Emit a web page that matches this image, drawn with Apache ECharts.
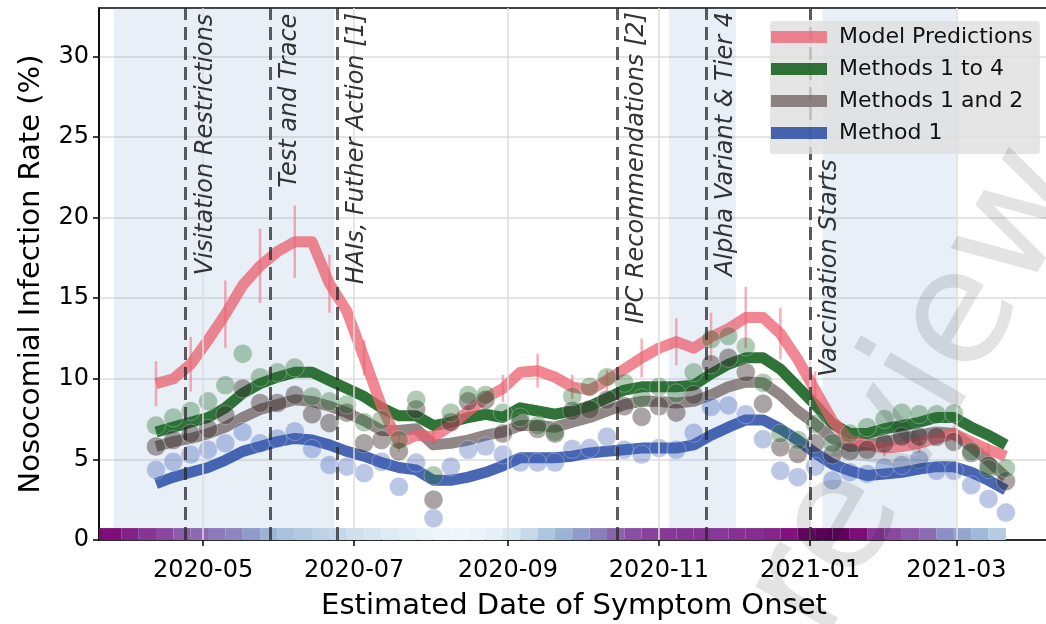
<!DOCTYPE html>
<html><head><meta charset="utf-8">
<script src="https://cdn.jsdelivr.net/npm/echarts@6/dist/echarts.min.js"></script>
<style>html,body{margin:0;padding:0;background:#fff}#c{width:1046px;height:624px}</style>
</head><body><div id="c"></div>
<script>
// ---------------- DATA ----------------
const weekDates = ['2020-04-12','2020-04-19','2020-04-26','2020-05-03','2020-05-10','2020-05-17','2020-05-24','2020-05-31',
 '2020-06-07','2020-06-14','2020-06-21','2020-06-28','2020-07-05','2020-07-12','2020-07-19','2020-07-26',
 '2020-08-02','2020-08-09','2020-08-16','2020-08-23','2020-08-30','2020-09-06','2020-09-13','2020-09-20','2020-09-27',
 '2020-10-04','2020-10-11','2020-10-18','2020-10-25','2020-11-01','2020-11-08','2020-11-15','2020-11-22','2020-11-29',
 '2020-12-06','2020-12-13','2020-12-20','2020-12-27','2021-01-03','2021-01-10','2021-01-17','2021-01-24','2021-01-31',
 '2021-02-07','2021-02-14','2021-02-21','2021-02-28','2021-03-07','2021-03-14','2021-03-21'];

const modelPred = [9.7,10.0,10.9,12.4,14.0,15.8,17.0,17.9,18.5,18.5,
 15.9,14.2,11.3,8.3,6.0,6.5,6.4,7.1,8.0,8.8,
 9.4,10.4,10.5,10.1,9.5,9.3,9.9,10.6,11.3,11.9,
 12.3,11.9,12.6,13.1,13.8,13.8,12.8,11.2,9.3,7.4,
 6.2,5.9,5.7,5.8,6.0,6.3,6.6,6.1,5.6,5.2];
const modelErr = [1.4,null,1.7,null,2.1,null,2.3,null,2.25,null,
 1.8,null,1.1,null,0.5,null,0.45,null,0.3,null,
 0.85,null,1.05,null,0.75,null,0.65,null,1.2,null,
 1.45,null,1.5,null,1.9,null,1.6,null,1.15,null,
 0.4,null,0.5,null,0.6,null,0.5,null,0.4,null];

const m14Line = [6.7,7.0,7.3,7.6,8.2,9.1,9.7,10.1,10.4,10.4,
 9.9,9.4,8.9,8.2,7.7,7.7,7.1,7.3,7.6,7.8,
 7.6,8.2,8.0,7.8,8.0,8.3,8.8,9.3,9.5,9.5,
 9.5,9.6,10.3,10.9,11.3,11.3,10.6,9.5,8.4,7.2,
 6.6,6.6,6.9,7.1,7.3,7.6,7.6,7.0,6.5,5.9];
const m12Line = [5.8,6.1,6.3,6.6,7.0,7.6,8.1,8.4,8.7,8.6,
 8.3,7.9,7.4,6.8,6.8,6.9,5.9,6.0,6.2,6.5,
 6.7,7.1,7.1,7.0,7.3,7.6,8.0,8.4,8.6,8.6,
 8.5,8.6,9.0,9.5,9.8,9.75,9.0,8.0,7.2,6.3,
 5.8,5.9,6.1,6.3,6.5,6.7,6.6,5.8,4.9,3.9];
const m1Line = [3.5,3.9,4.2,4.5,4.95,5.5,5.8,6.1,6.3,6.2,
 5.9,5.5,5.2,4.8,4.5,4.35,3.7,3.7,3.9,4.2,
 4.6,5.1,5.1,5.1,5.2,5.4,5.5,5.6,5.7,5.7,
 5.7,5.9,6.5,7.0,7.45,7.45,6.9,6.2,5.4,4.7,
 4.3,4.0,4.1,4.2,4.4,4.55,4.55,4.2,3.7,3.1];

const m14Pts = [7.1,7.6,8.0,8.6,9.6,11.55,10.1,10.4,10.7,8.9,
 8.6,8.4,7.3,7.45,6.2,8.7,4.0,7.9,9.0,9.0,
 7.9,7.6,7.1,6.7,8.9,9.5,10.1,9.75,8.8,9.5,
 9.1,10.4,12.45,12.65,12.0,9.75,6.6,6.2,7.2,6.0,
 6.6,7.0,7.5,7.9,7.8,7.8,7.85,5.5,4.4,4.45];
const m12Pts = [5.8,6.2,6.6,6.9,7.75,9.4,8.5,8.5,9.0,7.8,
 7.25,7.9,6.0,6.2,5.5,8.1,2.5,7.3,8.6,8.7,
 6.6,7.3,6.9,6.6,8.0,8.1,8.7,8.3,7.65,8.3,
 7.9,9.0,10.9,11.3,10.4,8.45,5.75,5.35,6.0,5.3,
 5.5,5.6,6.0,6.4,6.4,6.4,6.1,5.4,4.6,3.65];
const m1Pts = [4.35,4.85,5.3,5.6,6.0,6.7,6.0,6.3,6.75,5.65,
 4.65,4.55,4.15,4.85,3.3,4.8,1.35,4.55,5.6,5.8,
 5.3,4.8,4.8,4.8,5.65,5.7,6.4,5.6,5.3,5.7,
 5.6,6.65,8.25,8.35,7.8,6.25,4.3,3.9,4.55,3.7,
 4.2,4.1,4.5,4.65,5.0,4.3,4.3,3.4,2.55,1.7];

const stripStarts = ['2020-03-15','2020-03-22','2020-03-29','2020-04-05','2020-04-12','2020-04-19','2020-04-26','2020-05-03',
 '2020-05-10','2020-05-17','2020-05-24','2020-05-31','2020-06-07','2020-06-14','2020-06-21','2020-06-28','2020-07-05',
 '2020-07-12','2020-07-19','2020-07-26','2020-08-02','2020-08-09','2020-08-16','2020-08-23','2020-08-30','2020-09-06',
 '2020-09-13','2020-09-20','2020-09-27','2020-10-04','2020-10-11','2020-10-18','2020-10-25','2020-11-01','2020-11-08',
 '2020-11-15','2020-11-22','2020-11-29','2020-12-06','2020-12-13','2020-12-20','2020-12-27','2021-01-03','2021-01-10',
 '2021-01-17','2021-01-24','2021-01-31','2021-02-07','2021-02-14','2021-02-21','2021-02-28','2021-03-07','2021-03-14'];
const stripVals = [0.9,0.88,0.83,0.78,0.73,0.67,0.63,0.58,0.55,0.48,0.40,
 0.34,0.30,0.26,0.23,0.19,0.16,0.13,0.10,0.08,0.05,
 0.04,0.06,0.10,0.15,0.22,0.32,0.40,0.48,0.57,0.65,
 0.71,0.75,0.77,0.78,0.78,0.77,0.79,0.80,0.82,0.87,
 0.93,0.97,0.96,0.89,0.78,0.73,0.68,0.62,0.52,0.45,
 0.38,0.29];

const xTickDates = ['2020-05-01','2020-07-01','2020-09-01','2020-11-01','2021-01-01','2021-03-01'];
const yTicks = [0,5,10,15,20,25,30];
const eventDates = ['2020-04-24','2020-05-28','2020-06-24','2020-10-15','2020-11-20','2021-01-01'];
const eventLabels = ['Visitation Restrictions','Test and Trace','HAIs, Futher Action [1]','IPC Recommendations [2]','Alpha Variant & Tier 4','Vaccination Starts'];
const eventLabelTop = [32.65,32.65,32.7,32.75,32.75,23.6];
const shadeStarts = ['2020-03-26','2020-11-05','2021-01-06'];
const shadeEnds = ['2020-06-23','2020-12-02','2021-03-01'];
const names = ['Model Predictions','Methods 1 to 4','Methods 1 and 2','Method 1'];
const xLabel = 'Estimated Date of Symptom Onset';
const yLabel = 'Nosocomial Infection Rate (%)';

// ---------------- HELPERS ----------------
const DAY = 864e5;
function t(s){const p=s.split('-').map(Number);return new Date(p[0],p[1]-1,p[2]).getTime();}
const pair = v => weekDates.map((d,i)=>[t(d), v[i]]);
const FONT = '"DejaVu Sans", sans-serif';
const xMin = t('2020-03-20');
const xMax = xMin + 383.4*DAY;
const STRIP_H = 0.74;
const BUPU = ['#f7fcfd','#e0ecf4','#bfd3e6','#9ebcda','#8c96c6','#8c6bb1','#88419d','#810f7c','#4d004b'];

const cRed = 'rgba(235,95,110,0.75)';
const cGreen = 'rgba(25,100,35,0.9)';
const cGray = 'rgba(110,95,95,0.75)';
const cBlue = 'rgba(40,75,165,0.85)';

function lineSeries(name, vals, color){
  return {type:'line', name, data: pair(vals), z:4, showSymbol:false, symbol:'none',
    lineStyle:{color, width:11, cap:'butt', join:'round'}, itemStyle:{color},
    emphasis:{disabled:true}, silent:true};
}
function scatterSeries(name, vals, color){
  return {type:'scatter', name, data: pair(vals), z:4, symbolSize:19,
    itemStyle:{color, borderColor:'rgba(255,255,255,0.35)', borderWidth:1},
    emphasis:{disabled:true}, silent:true};
}

const series = [
  {type:'line', name:'shade', data:[], z:1, silent:true,
   markArea:{silent:true, itemStyle:{color:'rgba(100,150,200,0.15)'},
     data: shadeStarts.map((s,i)=>[{xAxis:t(s)},{xAxis:t(shadeEnds[i])}])}},
  {type:'line', name:'vgrid', data:[], z:2, silent:true,
   markLine:{silent:true, symbol:['none','none'], label:{show:false},
     lineStyle:{color:'#dcdcdc', width:1.5, type:'solid'},
     data: xTickDates.map(d=>({xAxis:t(d)}))}},
  {type:'custom', name:'strip', z:3, silent:true,
   data: stripStarts.map((s,i)=>[t(s), t(s)+7*DAY, stripVals[i]]),
   encode:{x:[0,1], y:2},
   renderItem(params, api){
     const a = api.coord([api.value(0), 0]);
     const b = api.coord([api.value(1), STRIP_H]);
     const cs = params.coordSys;
     const x0 = Math.max(a[0], cs.x), x1 = Math.min(b[0], cs.x+cs.width);
     return {type:'rect', shape:{x:x0, y:b[1], width:Math.max(0,x1-x0), height:a[1]-b[1]},
       style:{fill: api.visual('color')}};
   }},
  {type:'line', name:'events', data:[], z:2.5, silent:true,
   markLine:{silent:true, symbol:['none','none'], label:{show:false},
     lineStyle:{color:'rgba(40,40,40,0.75)', width:3, type:[13,7]},
     data: eventDates.map(d=>({xAxis:t(d)}))}},
  scatterSeries('m1pts', m1Pts, 'rgba(70,100,185,0.45)'),
  lineSeries(names[3], m1Line, cBlue),
  scatterSeries('m12pts', m12Pts, 'rgba(60,45,45,0.55)'),
  lineSeries(names[2], m12Line, cGray),
  scatterSeries('m14pts', m14Pts, 'rgba(40,110,50,0.45)'),
  lineSeries(names[1], m14Line, cGreen),
  {type:'custom', name:'err', z:4, silent:true,
   data: weekDates.map((d,i)=>[t(d), modelPred[i], modelErr[i]]).filter(r=>r[2]!==null),
   encode:{x:0, y:1},
   renderItem(params, api){
     const x = api.value(0), v = api.value(1), e = api.value(2);
     const a = api.coord([x, v-e]), b = api.coord([x, v+e]);
     return {type:'line', shape:{x1:a[0], y1:a[1], x2:b[0], y2:b[1]},
       style:{stroke:'rgba(240,110,125,0.55)', lineWidth:2.5}};
   }},
  lineSeries(names[0], modelPred, cRed),
  {type:'custom', name:'eventText', z:5, silent:true,
   data: eventDates.map((d,i)=>[t(d), eventLabelTop[i], i]),
   encode:{x:0, y:1},
   renderItem(params, api){
     const p = api.coord([api.value(0), api.value(1)]);
     return {type:'text', x:p[0]+8, y:p[1], rotation:Math.PI/2,
       style:{text: eventLabels[api.value(2)], font:'italic 24px "DejaVu Sans"', fill:'#333',
         align:'right', verticalAlign:'top'}};
   }}
];

const option = {
  animation:false,
  backgroundColor:'#fff',
  textStyle:{fontFamily:FONT},
  grid:{left:99, top:8, width:950, height:532, show:true, borderColor:'#000', borderWidth:1.5,
    backgroundColor:'transparent', containLabel:false, outerBoundsMode:'none'},
  xAxis:{type:'time', min:xMin, max:xMax,
    name:xLabel, nameLocation:'middle', nameGap:52,
    nameTextStyle:{fontSize:29, color:'#000', fontFamily:FONT},
    axisLine:{show:true, lineStyle:{color:'#000', width:1.5}},
    axisTick:{show:true, length:6, lineStyle:{color:'#000', width:1.5}, customValues: xTickDates.map(t)},
    axisLabel:{show:true, fontSize:24, color:'#000', fontFamily:FONT, margin:19,
      customValues: xTickDates.map(t), formatter:'{yyyy}-{MM}'},
    splitLine:{show:false}},
  yAxis:{type:'value', min:0, max:33, interval:5,
    name:yLabel, nameLocation:'middle', nameGap:53, nameRotate:90,
    nameTextStyle:{fontSize:29, color:'#000', fontFamily:FONT},
    axisLine:{show:true, lineStyle:{color:'#000', width:1.5}},
    axisTick:{show:true, length:6, lineStyle:{color:'#000', width:1.5}, customValues: yTicks},
    axisLabel:{show:true, fontSize:24, color:'#000', fontFamily:FONT, margin:10, customValues: yTicks},
    splitLine:{show:true, lineStyle:{color:'#dcdcdc', width:1.5}}},
  visualMap:[{type:'continuous', show:false, seriesIndex:2, dimension:2, min:0, max:1, inRange:{color:BUPU}}],
  legend:{show:true, data:names, orient:'vertical', left:770, top:21, icon:'rect',
    itemWidth:56, itemHeight:12, itemGap:8, padding:[4,7,9,1], selectedMode:false,
    backgroundColor:'rgba(222,222,222,0.8)', borderRadius:3, z:10,
    textStyle:{fontSize:22, color:'#111', fontFamily:FONT, lineHeight:24, padding:[0,0,0,7]}},
  graphic:[{type:'text', x:857, y:662, rotation:Math.PI/3, z:100, silent:true,
    style:{text:'review', font:'160px "DejaVu Sans"', fill:'rgba(0,0,0,0.11)', align:'left', verticalAlign:'bottom'}}],
  series
};
const chart = echarts.init(document.getElementById('c'), null, {renderer:'canvas'});
chart.setOption(option);
</script></body></html>
